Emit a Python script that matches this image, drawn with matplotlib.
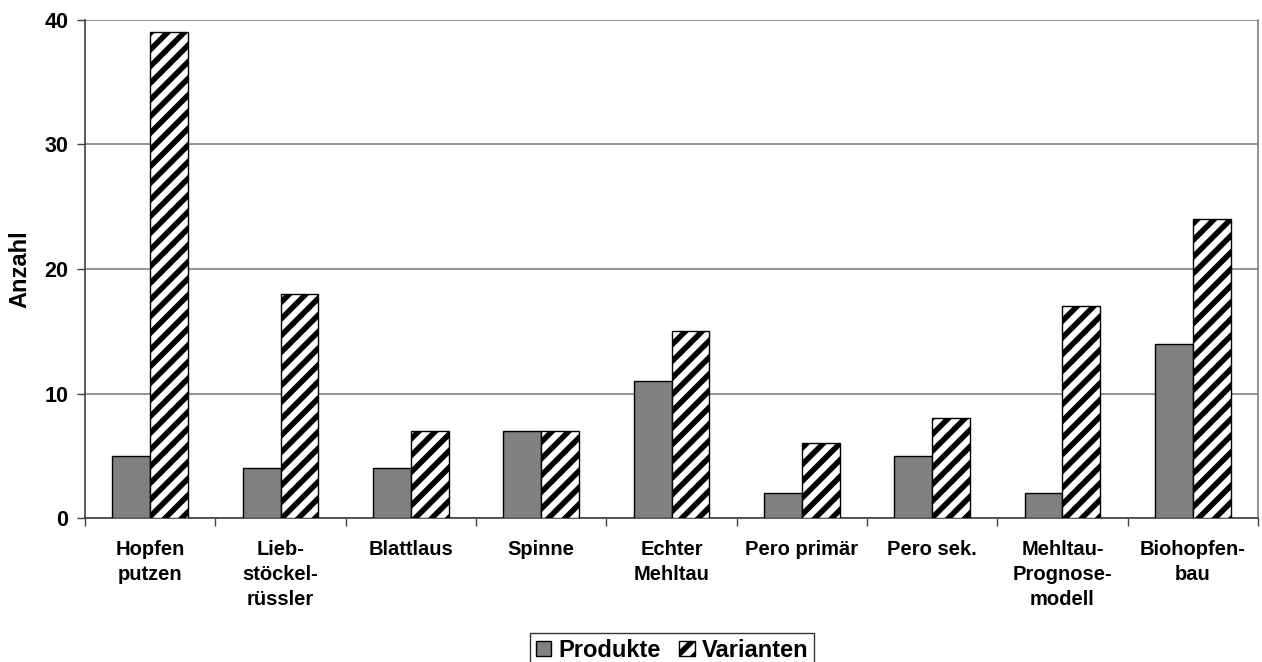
import numpy as np
import matplotlib
matplotlib.use("Agg")
import matplotlib.pyplot as plt

kategorien = ["Hopfen\nputzen", "Lieb-\nstöckel-\nrüssler", "Blattlaus", "Spinne",
              "Echter\nMehltau", "Pero primär", "Pero sek.",
              "Mehltau-\nPrognose-\nmodell", "Biohopfen-\nbau"]
produkte = [5, 4, 4, 7, 11, 2, 5, 2, 14]
varianten = [39, 18, 7, 7, 15, 6, 8, 17, 24]
y_ticks = [0, 10, 20, 30, 40]

plt.rcParams['font.family'] = ['Liberation Sans', 'DejaVu Sans']
plt.rcParams['hatch.linewidth'] = 4.0

fig = plt.figure(figsize=(12.62, 6.62), dpi=100)
ax = fig.add_axes([0.0674, 0.2175, 0.9294, 0.7523])

x = np.arange(len(kategorien))
w = 0.29
ax.bar(x - w / 2, produkte, w, color="#808080", edgecolor="black", linewidth=1.0,
       label="Produkte", zorder=3)
ax.bar(x + w / 2, varianten, w, color="white", edgecolor="black", hatch="//",
       linewidth=1.0, label="Varianten", zorder=3)

ax.set_xlim(-0.5, len(kategorien) - 0.5)
ax.set_ylim(0, 40)
ax.set_yticks(y_ticks)
ax.set_yticklabels([str(t) for t in y_ticks], fontsize=15.5, fontweight="bold")
ax.set_xticks(x)
ax.set_xticklabels(kategorien, fontsize=14.5, fontweight="bold", linespacing=1.4)
ax.tick_params(axis="x", which="major", length=0, pad=16)
ax.set_xticks(np.arange(len(kategorien) + 1) - 0.5, minor=True)
ax.tick_params(axis="x", which="minor", length=6, width=1.0, color="#404040")
ax.tick_params(axis="y", length=6, width=1.0, color="#404040", pad=6)

ax.yaxis.grid(True, color="#808080", linewidth=1.2, zorder=0)
ax.set_axisbelow(True)
for s in ["left", "bottom"]:
    ax.spines[s].set_color("#404040")
    ax.spines[s].set_linewidth(1.2)
ax.spines["right"].set_color("#808080")
ax.spines["right"].set_linewidth(1.2)
ax.spines["top"].set_visible(False)

ax.set_ylabel("Anzahl", fontsize=17, fontweight="bold", labelpad=9)

leg = fig.legend(loc="upper center", bbox_to_anchor=(672 / 1262, 29 / 662), ncol=2,
                 frameon=True, fancybox=False, edgecolor="black", handlelength=0.65,
                 handleheight=0.65, handletextpad=0.3, columnspacing=0.8,
                 borderpad=0.25, borderaxespad=0, prop={"size": 17, "weight": "bold"})
leg.get_frame().set_linewidth(1.0)

fig.savefig("out.png", dpi=100)
